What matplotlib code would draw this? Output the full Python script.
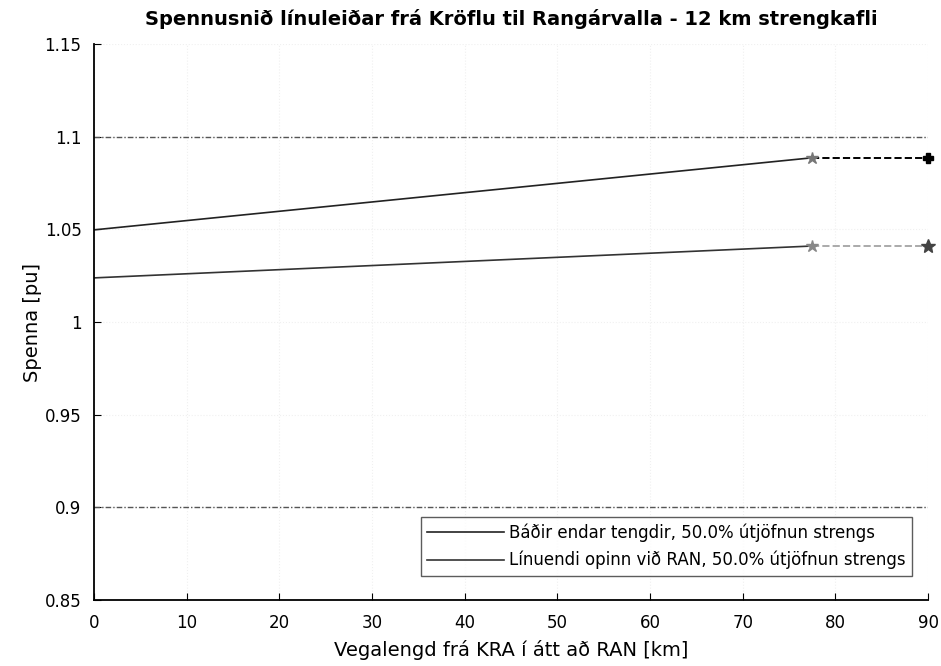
import matplotlib.pyplot as plt

plt.rcParams['font.family'] = ['DejaVu Sans']

# Voltage profile along the line (km, pu)
dist_line = [0, 77.5]
both_ends = [1.0497, 1.0886]
open_end = [1.0238, 1.0410]

# Cable section at the RAN end
dist_cable = [77.5, 90]
both_ends_cable = [1.0886, 1.0886]
open_end_cable = [1.0410, 1.0410]

upper_limit = 1.1
lower_limit = 0.9

legend_labels = [
    "Báðir endar tengdir, 50.0% útjöfnun strengs",
    "Línuendi opinn við RAN, 50.0% útjöfnun strengs",
]

fig = plt.figure(figsize=(9.41, 6.66), dpi=100)
ax = fig.add_axes([0.0999, 0.099, 0.8863, 0.835])

for lim in (upper_limit, lower_limit):
    ax.axhline(lim, color="#555555", linestyle="-.", linewidth=1.0, dashes=(4, 1.5, 1, 1.5))

l1, = ax.plot(dist_line, both_ends, color="#222222", linewidth=1.2)
l2, = ax.plot(dist_line, open_end, color="#333333", linewidth=1.2)
ax.plot(dist_cable, both_ends_cable, color="black", linestyle="--", linewidth=1.4)
ax.plot(dist_cable, open_end_cable, color="#aaaaaa", linestyle="--", linewidth=1.4)

ax.plot(dist_line[-1], both_ends[-1], marker="*", color="#777777", markersize=9)
ax.plot(dist_line[-1], open_end[-1], marker="*", color="#888888", markersize=9)
ax.plot(dist_cable[-1], both_ends_cable[-1], marker="P", color="black", markersize=7,
        clip_on=False)
ax.plot(dist_cable[-1], open_end_cable[-1], marker="*", color="#444444", markersize=10,
        clip_on=False)

ax.set_xlim(0, 90)
ax.set_ylim(0.85, 1.15)
ax.set_xticks(range(0, 91, 10))
ax.set_yticks([0.85, 0.9, 0.95, 1.0, 1.05, 1.1, 1.15])
ax.set_yticklabels(["0.85", "0.9", "0.95", "1", "1.05", "1.1", "1.15"])
ax.grid(True, color="#f0f0f0", linestyle=":", linewidth=0.8)
ax.tick_params(direction="in", labelsize=12, length=5, top=False, right=False)
ax.tick_params(axis="x", pad=10)
ax.tick_params(axis="y", pad=9)

for side in ("top", "right"):
    ax.spines[side].set_visible(False)
for side in ("left", "bottom"):
    ax.spines[side].set_linewidth(1.3)

ax.set_title("Spennusnið línuleiðar frá Kröflu til Rangárvalla - 12 km strengkafli",
             fontsize=14, fontweight="bold", pad=14)
ax.set_xlabel("Vegalengd frá KRA í átt að RAN [km]", fontsize=14, labelpad=6)
ax.set_ylabel("Spenna [pu]", fontsize=14, labelpad=2)

leg = ax.legend([l1, l2], legend_labels, loc="lower right",
                bbox_to_anchor=(0.981, 0.043), borderaxespad=0, fontsize=12,
                frameon=True, fancybox=False, edgecolor="#333333",
                handlelength=4.6, handletextpad=0.3, labelspacing=0.55)
leg.get_frame().set_linewidth(1.0)

fig.savefig("out.png", dpi=100)
